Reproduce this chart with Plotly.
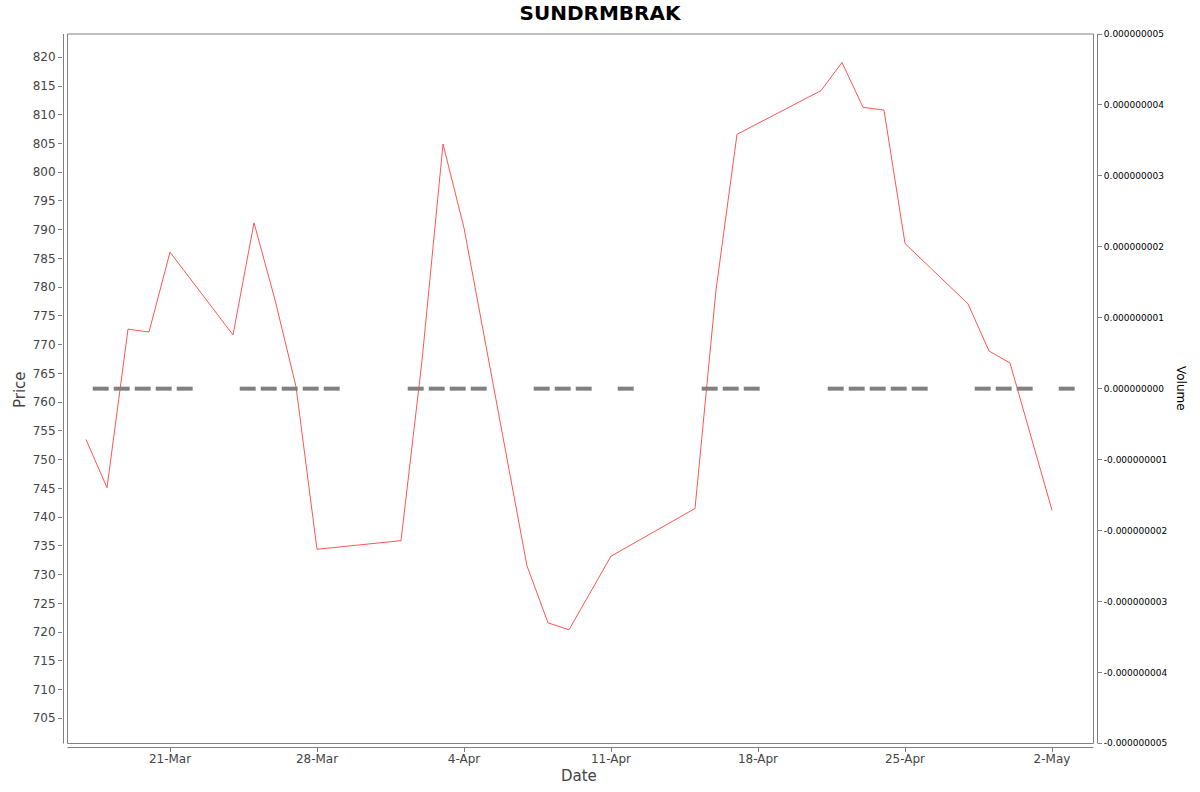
"""Libraries"""
import pandas as pd
import plotly.graph_objects as go

"""Data read off the chart"""
dates = [
    "2025-03-17", "2025-03-18", "2025-03-19", "2025-03-20", "2025-03-21",
    "2025-03-24", "2025-03-25", "2025-03-26", "2025-03-27", "2025-03-28",
    "2025-04-01", "2025-04-02", "2025-04-03", "2025-04-04",
    "2025-04-07", "2025-04-08", "2025-04-09", "2025-04-11",
    "2025-04-15", "2025-04-16", "2025-04-17",
    "2025-04-21", "2025-04-22", "2025-04-23", "2025-04-24", "2025-04-25",
    "2025-04-28", "2025-04-29", "2025-04-30", "2025-05-02",
]
prices = [
    753.5, 745.1, 772.7, 772.2, 786.1,
    771.7, 791.2, 777.8, 762.7, 734.4,
    735.9, 767.2, 804.9, 790.3,
    731.5, 721.6, 720.4, 733.2,
    741.5, 779.5, 806.6,
    814.2, 819.1, 811.3, 810.8, 787.6,
    777.1, 768.9, 766.8, 741.2,
]
volumes = [
    0, 0, 0, 0, 0,
    0, 0, 0, 0, 0,
    0, 0, 0, 0,
    0, 0, 0, 0,
    0, 0, 0,
    0, 0, 0, 0, 0,
    0, 0, 0, 0,
]

x_tick_vals = ["2025-03-21", "2025-03-28", "2025-04-04", "2025-04-11",
               "2025-04-18", "2025-04-25", "2025-05-02"]
x_tick_text = ["21-Mar", "28-Mar", "4-Apr", "11-Apr", "18-Apr", "25-Apr", "2-May"]
price_ticks = [705, 710, 715, 720, 725, 730, 735, 740, 745, 750, 755, 760,
               765, 770, 775, 780, 785, 790, 795, 800, 805, 810, 815, 820]
vol_ticks = [-5e-9, -4e-9, -3e-9, -2e-9, -1e-9, 0, 1e-9, 2e-9, 3e-9, 4e-9, 5e-9]
vol_tick_text = ["-0.000000005", "-0.000000004", "-0.000000003", "-0.000000002",
                 "-0.000000001", "0.000000000", "0.000000001", "0.000000002",
                 "0.000000003", "0.000000004", "0.000000005"]

df = pd.DataFrame({"date": pd.to_datetime(dates), "price": prices, "volume": volumes})
# volume bars sit a bit to the right of the daily price point
df["bar_x"] = df["date"] + pd.Timedelta(hours=16.8)

# plot area in pixels (axis lines), used to place shapes/labels
W, H = 1200, 792
L, R, T, B = 63, 1097, 34, 747


def px(x):
    return (x - L) / (R - L)


def py(y):
    return (B - y) / (B - T)


GRAY = "#808080"
FONT = "DejaVu Sans"

fig = go.Figure()

# zero volume shows up as flat gray dashes (line-ew is 1.4*size long)
fig.add_trace(
    go.Scatter(
        x=df["bar_x"],
        y=df["volume"],
        mode="markers",
        marker=dict(symbol="line-ew", size=11.4, line=dict(width=4, color=GRAY)),
        yaxis="y2",
        name="Volume",
        hoverinfo="skip",
    )
)

fig.add_trace(
    go.Scatter(
        x=df["date"],
        y=df["price"],
        mode="lines",
        line=dict(color="#FF5555", width=1),
        name="Price",
    )
)

fig.update_layout(
    width=W,
    height=H,
    paper_bgcolor="white",
    plot_bgcolor="white",
    showlegend=False,
    font=dict(family=FONT, color="#444444"),
    margin=dict(l=L, r=W - R, t=T, b=H - B, pad=0),
    title=dict(
        text="<b>SUNDRMBRAK</b>",
        x=0.5,
        xref="container",
        xanchor="center",
        y=1 - 13 / H,
        yanchor="middle",
        font=dict(size=20, color="black", family=FONT),
    ),
    xaxis=dict(
        type="date",
        range=["2025-03-15 21:43", "2025-05-04 03:26"],
        tickvals=x_tick_vals,
        ticktext=x_tick_text,
        ticks="outside",
        ticklen=4,
        tickcolor=GRAY,
        ticklabelstandoff=-3,
        tickfont=dict(size=12, color="#444444"),
        showgrid=False,
        zeroline=False,
        showline=False,
    ),
    yaxis=dict(
        range=[700.0, 824.05],
        tickvals=price_ticks,
        ticks="outside",
        ticklen=4,
        tickcolor=GRAY,
        tickfont=dict(size=12, color="#444444"),
        showgrid=False,
        zeroline=False,
        showline=False,
    ),
    yaxis2=dict(
        overlaying="y",
        side="right",
        range=[-5.052e-9, 5e-9],
        tickvals=vol_ticks,
        ticktext=vol_tick_text,
        ticks="outside",
        ticklen=4,
        tickcolor=GRAY,
        tickfont=dict(size=9, color="black"),
        showgrid=False,
        zeroline=False,
        showline=False,
    ),
)

# plot box plus the detached axis lines
line_style = dict(color=GRAY, width=1)
fig.add_shape(type="rect", xref="paper", yref="paper",
              x0=px(67.5), x1=px(1093.5), y0=py(743.5), y1=py(34), line=line_style)
fig.add_shape(type="line", xref="paper", yref="paper",
              x0=px(63.5), x1=px(63.5), y0=py(743.5), y1=py(34), line=line_style)
fig.add_shape(type="line", xref="paper", yref="paper",
              x0=px(1097.5), x1=px(1097.5), y0=py(743.5), y1=py(34), line=line_style)
fig.add_shape(type="line", xref="paper", yref="paper",
              x0=px(67.5), x1=px(1093.5), y0=py(747.5), y1=py(747.5), line=line_style)

# axis titles
title_pos = dict(xref="paper", yref="paper", xanchor="center", yanchor="middle",
                 showarrow=False)
fig.add_annotation(text="Price", x=px(20), y=py(390), textangle=-90,
                   font=dict(size=15, color="#444444"), **title_pos)
fig.add_annotation(text="Date", x=px(579), y=py(776),
                   font=dict(size=15, color="#444444"), **title_pos)
fig.add_annotation(text="Volume", x=px(1181), y=py(388), textangle=90,
                   font=dict(size=12, color="black"), **title_pos)

# drop the default body margin so the chart sits at the page corner
fig.write_html(
    "out.html",
    config={"displayModeBar": False},
    post_script="document.body.style.margin='0';",
)
